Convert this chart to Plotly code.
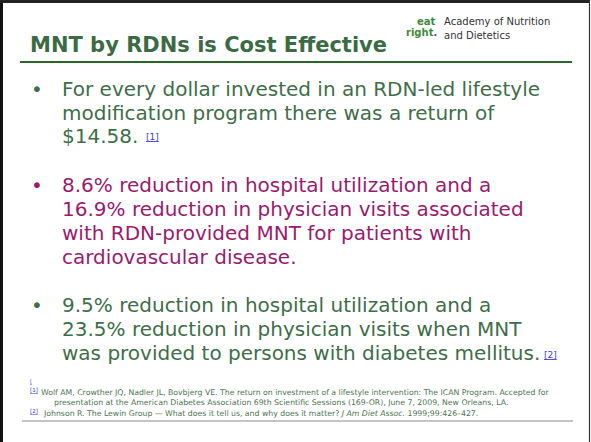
import plotly.graph_objects as go

W, H = 591, 442

title_text = "MNT by RDNs is Cost Effective"
logo_words = ["eat", "right", "."]
logo_lines = ["Academy of Nutrition", "and Dietetics"]

bullet1_lines = [
    "For every dollar invested in an RDN-led lifestyle",
    "modification program there was a return of",
    "$14.58.",
]
bullet1_ref = "[1]"
bullet2_lines = [
    "8.6% reduction in hospital utilization and a",
    "16.9% reduction in physician visits associated",
    "with RDN-provided MNT for patients with",
    "cardiovascular disease.",
]
bullet3_lines = [
    "9.5% reduction in hospital utilization and a",
    "23.5% reduction in physician visits when MNT",
    "was provided to persons with diabetes mellitus.",
]
bullet3_ref = "[2]"

ref_marks = ["[", "[1]", "[2]"]
ref_lines = [
    "Wolf AM, Crowther JQ, Nadler JL, Bovbjerg VE. The return on investment of a lifestyle intervention: The ICAN Program. Accepted for",
    "presentation at the American Diabetes Association 69th Scientific Sessions (169-OR), June 7, 2009, New Orleans, LA.",
    "Johnson R. The Lewin Group \u2014 What does it tell us, and why does it matter? <i>J Am Diet Assoc.</i> 1999;99:426\u2013427.",
]

GREEN = "#3e6e48"
MAGENTA = "#991b6e"
TITLE_GREEN = "#3b6b44"
LINK = "#3b3bd6"
REF_GREEN = "#4d7553"
FONT = "DejaVu Sans"

fig = go.Figure()
anns = []


def txt(x, base, text, size, color, bold=False, family=FONT, anchor="left", align="left"):
    anns.append(dict(
        x=x, y=base - 0.35 * size, xref="x", yref="y", text=("<b>%s</b>" % text) if bold else text,
        showarrow=False, xanchor=anchor, yanchor="middle", align=align,
        font=dict(family=family, size=size, color=color), borderpad=0,
    ))


# Title
txt(29, 52, title_text, 21, TITLE_GREEN, bold=True)

# Logo
txt(416, 25, logo_words[0], 10, "#3d8a3a", bold=True)
txt(405, 35.5, "%s<span style='color:#b0187a'>%s</span>" % (logo_words[1], logo_words[2]), 10, "#3d8a3a", bold=True)
for i, ln in enumerate(logo_lines):
    anns.append(dict(
        x=443, y=28.5, xref="x", yref="y", text=ln,
        showarrow=False, xanchor="left", yanchor="bottom" if i == 0 else "top", align="left",
        font=dict(family=FONT, size=10, color="#333333"), borderpad=0,
    ))

# Bullets
BS = 20
b1_base = [96, 119.5, 143]
b2_base = [192, 216, 240, 264]
b3_base = [312, 336, 360]
for lines, bases, col in [(bullet1_lines, b1_base, GREEN), (bullet2_lines, b2_base, MAGENTA), (bullet3_lines, b3_base, GREEN)]:
    txt(30, bases[0], "\u2022", BS, col)
    for ln, b in zip(lines, bases):
        txt(61, b, ln, BS, col)

txt(145, 140, "<u>%s</u>" % bullet1_ref, 9, LINK)
txt(543, 358, "<u>%s</u>" % bullet3_ref, 9, LINK)

# References
RS = 7.75
txt(29, 383, "<u>%s</u>" % ref_marks[0], 5, LINK)
txt(29, 392, "<u>%s</u>" % ref_marks[1], 5.5, LINK)
txt(40, 395, ref_lines[0], RS, REF_GREEN)
txt(53, 405.5, ref_lines[1], RS, REF_GREEN)
txt(29, 413, "<u>%s</u>" % ref_marks[2], 5.5, LINK)
txt(42, 416, ref_lines[2], RS, REF_GREEN)

shapes = [
    dict(type="line", x0=1.5, x1=1.5, y0=0, y1=H, line=dict(color="#111111", width=3)),
    dict(type="line", x0=0, x1=590, y0=1.5, y1=1.5, line=dict(color="#222222", width=3)),
    dict(type="line", x0=589.5, x1=589.5, y0=0, y1=H, line=dict(color="#333333", width=1.2)),
    dict(type="line", x0=20, x1=572, y0=62, y1=62, line=dict(color="#2b6a2b", width=2)),
    dict(type="line", x0=22, x1=573, y0=421, y1=421, line=dict(color="#8a8a8a", width=1.2)),
]

fig.update_layout(
    width=W, height=H, margin=dict(l=0, r=0, t=0, b=0),
    paper_bgcolor="white", plot_bgcolor="white",
    xaxis=dict(range=[0, W], visible=False, fixedrange=True),
    yaxis=dict(range=[H, 0], visible=False, fixedrange=True),
    annotations=anns, shapes=shapes, showlegend=False,
)
fig.write_html(
    "out.html",
    config={"displayModeBar": False, "staticPlot": True},
    post_script="document.body.style.margin='0';document.body.style.overflow='hidden';",
)
